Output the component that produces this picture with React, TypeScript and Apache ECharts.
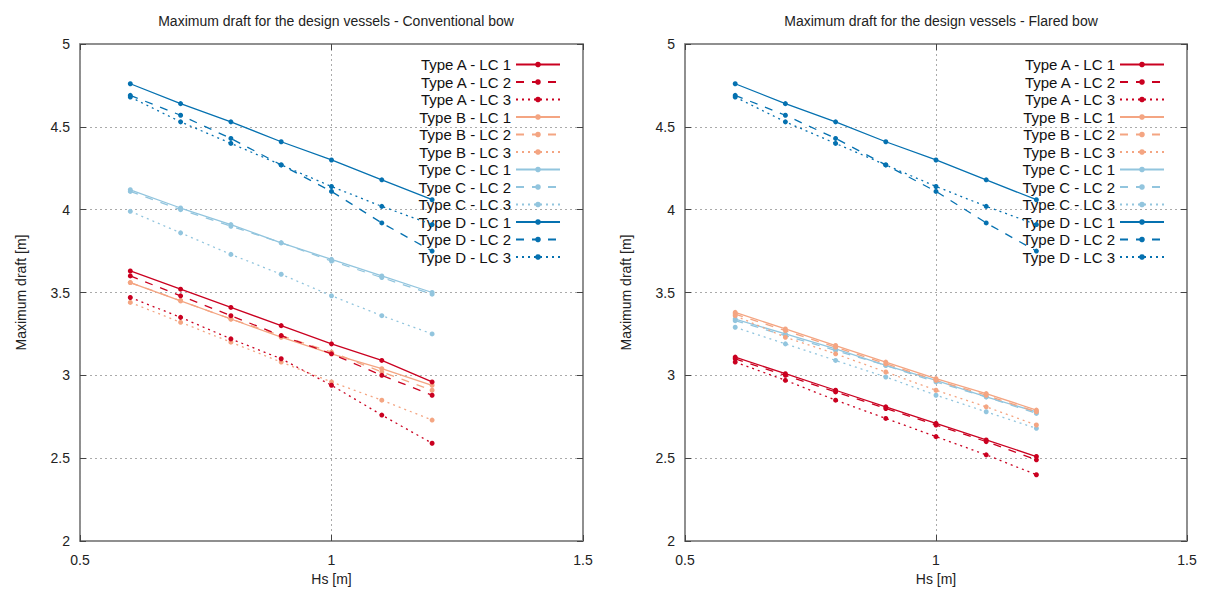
import React, { useEffect, useRef } from "react";
import * as echarts from "echarts";

const hs = [0.6, 0.7, 0.8, 0.9, 1.0, 1.1, 1.2];
const seriesNames = [
  "Type A - LC 1", "Type A - LC 2", "Type A - LC 3",
  "Type B - LC 1", "Type B - LC 2", "Type B - LC 3",
  "Type C - LC 1", "Type C - LC 2", "Type C - LC 3",
  "Type D - LC 1", "Type D - LC 2", "Type D - LC 3",
];
const typeColors = ["#ca0020", "#f4a582", "#92c5de", "#0571b0"];
const xTicks = [0.5, 1, 1.5];
const yTicks = [2, 2.5, 3, 3.5, 4, 4.5, 5];

// Conventional bow
const convA1 = [3.63, 3.52, 3.41, 3.30, 3.19, 3.09, 2.96];
const convA2 = [3.60, 3.48, 3.36, 3.24, 3.13, 3.00, 2.88];
const convA3 = [3.47, 3.35, 3.22, 3.10, 2.94, 2.76, 2.59];
const convB1 = [3.56, 3.45, 3.34, 3.23, 3.13, 3.04, 2.94];
const convB2 = [3.56, 3.45, 3.34, 3.24, 3.14, 3.02, 2.91];
const convB3 = [3.44, 3.32, 3.20, 3.08, 2.96, 2.85, 2.73];
const convC1 = [4.12, 4.01, 3.91, 3.80, 3.70, 3.60, 3.50];
const convC2 = [4.11, 4.00, 3.90, 3.80, 3.69, 3.59, 3.49];
const convC3 = [3.99, 3.86, 3.73, 3.61, 3.48, 3.36, 3.25];
const convD1 = [4.76, 4.64, 4.53, 4.41, 4.30, 4.18, 4.06];
const convD2 = [4.69, 4.57, 4.43, 4.27, 4.11, 3.92, 3.75];
const convD3 = [4.68, 4.53, 4.40, 4.27, 4.14, 4.02, 3.91];

// Flared bow
const flA1 = [3.11, 3.01, 2.91, 2.81, 2.71, 2.61, 2.51];
const flA2 = [3.10, 3.00, 2.90, 2.80, 2.70, 2.60, 2.49];
const flA3 = [3.08, 2.97, 2.85, 2.74, 2.63, 2.52, 2.40];
const flB1 = [3.38, 3.28, 3.18, 3.08, 2.98, 2.89, 2.79];
const flB2 = [3.37, 3.27, 3.17, 3.07, 2.97, 2.88, 2.78];
const flB3 = [3.36, 3.23, 3.13, 3.02, 2.91, 2.81, 2.70];
const flC1 = [3.34, 3.25, 3.16, 3.06, 2.97, 2.87, 2.78];
const flC2 = [3.33, 3.24, 3.15, 3.06, 2.96, 2.87, 2.77];
const flC3 = [3.29, 3.19, 3.09, 2.99, 2.88, 2.78, 2.68];
const flD1 = [4.76, 4.64, 4.53, 4.41, 4.30, 4.18, 4.06];
const flD2 = [4.69, 4.57, 4.43, 4.27, 4.11, 3.92, 3.75];
const flD3 = [4.68, 4.53, 4.40, 4.27, 4.14, 4.02, 3.91];

const convData = [convA1, convA2, convA3, convB1, convB2, convB3, convC1, convC2, convC3, convD1, convD2, convD3];
const flData = [flA1, flA2, flA3, flB1, flB2, flB3, flC1, flC2, flC3, flD1, flD2, flD3];

const titles = [
  "Maximum draft for the design vessels - Conventional bow",
  "Maximum draft for the design vessels - Flared bow",
];

const FONT = "'Liberation Sans', Arial, sans-serif";
const dashStyles: any[] = ["solid", [8, 8], [2, 4]];

export default function App() {
  const ref = useRef<HTMLDivElement>(null);
  useEffect(() => {
    const chart = echarts.init(ref.current!, null, { renderer: "svg" });
    const grids = [
      { left: 80, top: 44, width: 503, height: 497 },
      { left: 685, top: 44, width: 502, height: 497 },
    ];
    const tickStyle = { show: true, inside: true, length: 6, lineStyle: { color: "#444" } };
    const makeX = (gi: number) => ({
      type: "value", gridIndex: gi, min: 0.5, max: 1.5, interval: 0.5,
      name: "Hs [m]", nameLocation: "middle", nameGap: 30,
      nameTextStyle: { fontSize: 14, color: "#222", fontFamily: FONT },
      axisLine: { show: true, lineStyle: { color: "#888", width: 1.5 } },
      axisTick: tickStyle,
      axisLabel: { fontSize: 14, color: "#222", fontFamily: FONT, margin: 12, formatter: (v: number) => xTicks.includes(v) ? String(v) : "" },
      splitLine: { show: true, lineStyle: { color: "#aaa", type: [2, 3], width: 1 } },
    });
    const makeXTop = (gi: number) => ({
      type: "value", gridIndex: gi, min: 0.5, max: 1.5, interval: 0.5, position: "top",
      axisLine: { show: true, lineStyle: { color: "#888", width: 1.5 } },
      axisTick: tickStyle, axisLabel: { show: false }, splitLine: { show: false },
    });
    const makeY = (gi: number) => ({
      type: "value", gridIndex: gi, min: 2, max: 5, interval: 0.5,
      name: "Maximum draft [m]", nameLocation: "middle", nameGap: 52,
      nameTextStyle: { fontSize: 14, color: "#222", fontFamily: FONT },
      axisLine: { show: true, lineStyle: { color: "#888", width: 1.5 } },
      axisTick: tickStyle,
      axisLabel: { fontSize: 14, color: "#222", fontFamily: FONT, margin: 10, formatter: (v: number) => yTicks.includes(v) ? String(v) : "" },
      splitLine: { show: true, lineStyle: { color: "#aaa", type: [2, 3], width: 1 } },
    });
    const makeYRight = (gi: number) => ({
      type: "value", gridIndex: gi, min: 2, max: 5, interval: 0.5, position: "right",
      axisLine: { show: true, lineStyle: { color: "#888", width: 1.5 } },
      axisTick: tickStyle, axisLabel: { show: false }, splitLine: { show: false },
    });
    const series: any[] = [];
    [convData, flData].forEach((set, gi) => {
      set.forEach((vals, i) => {
        const color = typeColors[Math.floor(i / 3)];
        series.push({
          type: "line",
          name: seriesNames[i],
          xAxisIndex: gi,
          yAxisIndex: gi,
          data: hs.map((x, k) => [x, vals[k]]),
          symbol: "circle",
          symbolSize: 5,
          showSymbol: true,
          itemStyle: { color },
          lineStyle: { color, width: 1.3, type: dashStyles[i % 3] },
          z: 10 - Math.floor(i / 3),
        });
      });
    });
    const makeLegend = (right: number) => ({
      orient: "vertical",
      right,
      top: 51,
      align: "right",
      itemWidth: 44,
      itemHeight: 7,
      itemGap: 0.5,
      data: seriesNames,
      textStyle: { fontSize: 15, lineHeight: 17, color: "#111", fontFamily: FONT },
      selectedMode: false,
    });
    chart.setOption({
      animation: false,
      backgroundColor: "#fff",
      title: [
        { text: titles[0], left: 331, top: 9, textAlign: "center", textStyle: { fontSize: 14, fontWeight: "normal", color: "#222", fontFamily: FONT } },
        { text: titles[1], left: 936, top: 9, textAlign: "center", textStyle: { fontSize: 14, fontWeight: "normal", color: "#222", fontFamily: FONT } },
      ],
      grid: grids.map((g) => ({ ...g, show: true, borderColor: "#888", borderWidth: 1.5, backgroundColor: "transparent" })),
      xAxis: [makeX(0), makeX(1), makeXTop(0), makeXTop(1)],
      yAxis: [makeY(0), makeY(1), makeYRight(0), makeYRight(1)],
      legend: [makeLegend(1205 - 566), makeLegend(1205 - 1170)],
      series,
    });
    return () => chart.dispose();
  }, []);
  return <div ref={ref} style={{ position: "fixed", left: 0, top: 0, width: 1205, height: 597 }} />;
}
